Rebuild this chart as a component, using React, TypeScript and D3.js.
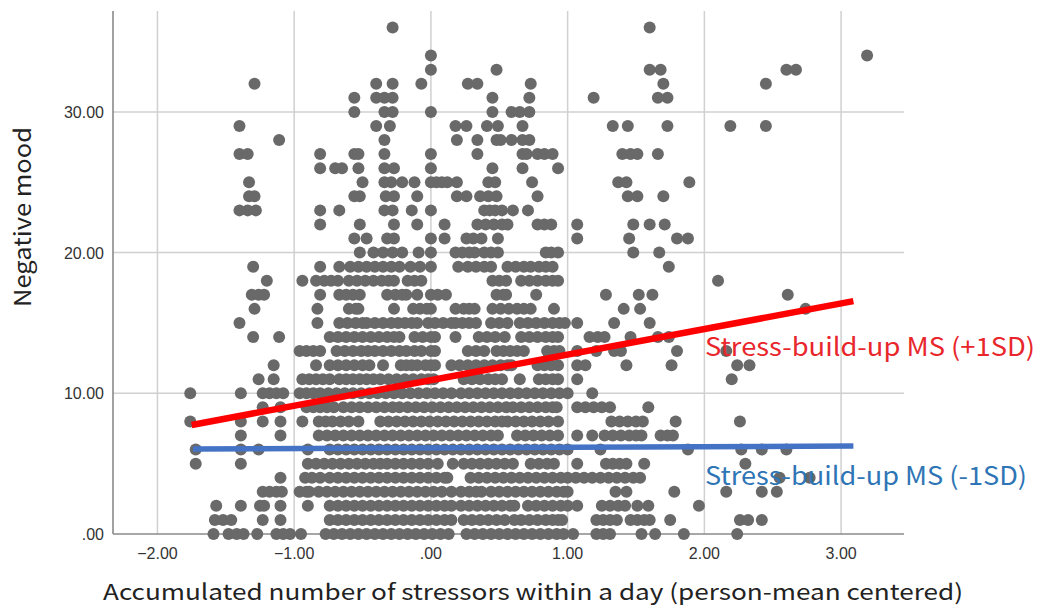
import * as React from 'react'
import {scaleLinear, format as d3Format, line} from 'd3'

// y value (negative mood) of each row of points
const moodLevels = [36, 34, 33, 32, 31, 30, 29, 28, 27, 26, 25, 24, 23, 22, 21, 20, 19, 18, 17, 16, 15, 14, 13, 12, 11, 10, 9, 8, 7, 6, 5, 4, 3, 2, 1, 0]

// x values (stressors, person-mean centered, x100) read per row
const stressorRows = [
  '-28 160',
  '0 319',
  '0 48 160 168 260 267',
  '-129 -40 -28 -7 27 34 73 170 245',
  '-56 -40 -34 -28 45 72 119 166 173',
  '-56 -34 -28 0 45 59 65 72',
  '-140 -40 -30 18 26 41 49 67 133 144 173 219 245',
  '-111 -34 19 34 48 51 59 67 72',
  '-140 -134 -81 -56 -53 -34 0 34 67 70 78 83 89 140 146 151 166',
  '-81 -70 -65 -53 -34 -27 0 45 67 93',
  '-133 -50 -34 -29 -21 -12 0 4 8 12 19 42 47 74 137 143 189',
  '-133 -129 -56 -52 -33 -27 -10 19 26 36 42 48 78 144 151 170',
  '-140 -134 -128 -81 -67 -34 -28 -14 0 39 43 47 52 60 71',
  '-81 -52 -27 -10 10 34 40 46 52 56 78 83 88 107 148 160 171',
  '-56 -47 -32 -27 0 10 26 31 37 49 107 145 180 188',
  '-52 -42 -35 -28 -21 -9 0 18 23 28 32 39 44 49 84 88 93 148 167',
  '-130 -81 -67 -59 -53 -47 -41 -35 -29 -23 -15 -8 0 20 27 33 39 44 56 62 68 73 79 84 89 174',
  '-120 -94 -84 -78 -73 -68 -60 -54 -48 -42 -36 -31 -27 -17 -12 -7 45 50 55 66 72 78 84 89 93 210',
  '-131 -126 -122 -81 -67 -62 -57 -52 -32 -26 -21 -18 -10 0 5 11 48 53 55 77 128 152 162 261',
  '-129 -83 -60 -55 -53 -27 -13 -8 -3 0 18 24 28 32 45 51 57 63 68 73 90 141 153 274',
  '-140 -83 -67 -61 -55 -50 -47 -41 -35 -29 -24 -19 -14 -10 -2 3 9 15 18 23 28 33 44 50 56 65 71 77 83 89 94 98 107 134 160',
  '-130 -111 -74 -68 -62 -56 -50 -44 -38 -32 -27 -23 -12 -6 0 3 18 35 41 47 54 66 72 78 84 89 93 116 122 127 146 166 174',
  '-96 -91 -86 -81 -69 -63 -57 -51 -46 -41 -35 -29 -23 -18 -12 -7 0 3 27 33 39 48 53 58 63 68 85 90 94 107 121 134 139 180 216',
  '-115 -84 -74 -68 -62 -56 -50 -45 -35 -22 -18 -14 -10 -4 0 3 15 21 27 33 39 45 51 56 59 78 83 88 93 107 113 143 176 224 233',
  '-126 -115 -94 -89 -84 -79 -74 -67 -62 -57 -52 -47 -42 -37 -31 -25 -19 -13 -7 -2 2 24 30 36 42 47 52 65 79 84 89 93 107 220',
  '-176 -139 -123 -118 -113 -108 -96 -91 -86 -81 -75 -69 -63 -57 -51 -45 -39 -33 -27 -21 -15 -9 -3 3 9 15 22 28 34 40 46 52 58 64 70 76 82 88 94 100 118',
  '-123 -110 -91 -86 -81 -76 -71 -64 -58 -52 -46 -40 -34 -28 -23 -17 -11 -5 1 7 13 19 25 31 37 43 49 55 60 66 72 78 84 89 92 107 113 119 125 131 159',
  '-176 -139 -123 -110 -94 -82 -77 -72 -66 -60 -53 -37 -31 -25 -19 -13 -7 -1 5 11 17 23 29 35 41 47 52 56 62 68 74 80 86 93 132 138 144 150 155 179 226',
  '-139 -110 -82 -76 -70 -64 -58 -52 -46 -40 -34 -28 -22 -16 -10 -4 2 8 14 20 26 32 38 44 49 63 69 75 81 87 93 107 118 127 133 139 145 150 154 168 173 177',
  '-172 -139 -126 -90 -74 -68 -62 -56 -50 -44 -38 -32 -26 -20 -14 -8 -2 4 10 16 22 28 34 40 46 52 58 64 70 76 82 88 94 100 124 188 227 242 260',
  '-172 -139 -90 -84 -78 -72 -66 -60 -54 -48 -42 -37 -32 -26 -20 -14 -8 -2 5 16 24 30 36 42 48 54 60 73 79 85 90 107 128 133 138 143 156 230',
  '-110 -92 -87 -81 -74 -68 -62 -56 -50 -44 -38 -32 -26 -20 -14 -8 -2 4 10 12 29 35 41 47 53 59 65 71 77 83 89 95 100 106 112 118 124 130 136 142 148 153 255 277',
  '-123 -118 -113 -109 -96 -91 -89 -82 -76 -70 -64 -58 -52 -46 -40 -34 -28 -22 -16 -10 -4 2 8 15 22 28 33 37 44 50 56 62 68 74 80 86 92 97 100 135 143 178 216 242 253',
  '-157 -139 -125 -122 -110 -90 -74 -68 -62 -56 -50 -44 -38 -32 -26 -20 -14 -8 -2 4 10 15 22 28 34 40 46 52 58 61 71 77 83 89 95 100 107 125 131 137 142 151 159 196',
  '-158 -152 -146 -123 -110 -74 -68 -62 -56 -50 -44 -38 -32 -26 -20 -14 -8 -2 4 10 15 24 30 36 42 48 54 61 66 72 78 84 89 93 96 121 126 131 136 146 151 156 160 175 226 232 242',
  '-159 -148 -142 -137 -127 -113 -108 -103 -95 -77 -71 -65 -59 -53 -47 -41 -35 -29 -23 -17 -11 -5 1 7 13 26 32 38 44 50 56 62 68 74 80 86 92 97 104 121 126 131 154 164 185 224',
]

// simple slopes at +1SD / -1SD of the moderator
const highMsLine = [[-1.75, 7.75], [3.09, 16.55]]
const lowMsLine = [[-1.74, 6.04], [3.09, 6.25]]

const xTicks = [-2, -1, 0, 1, 2, 3]
const yTicks = [0, 10, 20, 30]

const fmt2 = d3Format('.2f')
const tickText = (v: number) => fmt2(v).replace(/^(-?)0\./, '$1.')

export default function App() {
  const x = scaleLinear().domain([-2.325, 3.46]).range([113, 904])
  const y = scaleLinear().domain([0, 37.17]).range([534, 11])

  const points = stressorRows.flatMap((row, i) =>
    row.split(' ').map(v => ({sx: +v / 100, mood: moodLevels[i]})))

  const path = line<number[]>().x(d => x(d[0])).y(d => y(d[1]))

  return (
    <svg width={1040} height={607} style={{position: 'absolute', left: 0, top: 0, background: '#fff'}}>
      <g>
        {xTicks.map(t => (
          <line key={'gx' + t} x1={x(t)} x2={x(t)} y1={11} y2={534} stroke="#d0d0d0" strokeWidth={1.5} />
        ))}
        {yTicks.filter(t => t > 0).map(t => (
          <line key={'gy' + t} x1={113} x2={904} y1={y(t)} y2={y(t)} stroke="#d0d0d0" strokeWidth={1.5} />
        ))}
        <line x1={113} x2={113} y1={11} y2={534} stroke="#8a8a8a" strokeWidth={1.6} />
        <line x1={113} x2={904} y1={534} y2={534} stroke="#8a8a8a" strokeWidth={1.6} />
      </g>
      <g fontFamily="'Liberation Sans', Arial, sans-serif" fontSize={16} fill="#333">
        {xTicks.map(t => (
          <text key={'tx' + t} x={x(t)} y={559} textAnchor="middle">{tickText(t)}</text>
        ))}
        {yTicks.map(t => (
          <text key={'ty' + t} x={104} y={y(t) + 6} textAnchor="end">{tickText(t)}</text>
        ))}
      </g>
      <g fill="#696969">
        {points.map((p, i) => (
          <circle key={i} cx={x(p.sx)} cy={y(p.mood)} r={6} />
        ))}
      </g>
      <path d={path(highMsLine) || ''} stroke="#ff0000" strokeWidth={6.5} fill="none" />
      <path d={path(lowMsLine) || ''} stroke="#4472c4" strokeWidth={5.5} fill="none" />
      <g fontFamily="'Noto Sans CJK JP', 'Noto Sans', sans-serif" fontSize={25}>
        <text x={705} y={356} fill="#e8262b" textLength={330} lengthAdjust="spacingAndGlyphs">Stress-build-up MS (+1SD)</text>
        <text x={705} y={485} fill="#2e75b6" textLength={322} lengthAdjust="spacingAndGlyphs">Stress-build-up MS (-1SD)</text>
      </g>
      <text x={103} y={600} fontFamily="'Noto Sans CJK JP', 'Noto Sans', sans-serif" fontSize={22} fill="#222"
        textLength={860} lengthAdjust="spacingAndGlyphs">Accumulated number of stressors within a day (person-mean centered)</text>
      <text transform="translate(31,217) rotate(-90)" textAnchor="middle" fontFamily="'Noto Sans CJK JP', 'Noto Sans', sans-serif"
        fontSize={23} fill="#222" textLength={180} lengthAdjust="spacingAndGlyphs">Negative mood</text>
    </svg>
  )
}
